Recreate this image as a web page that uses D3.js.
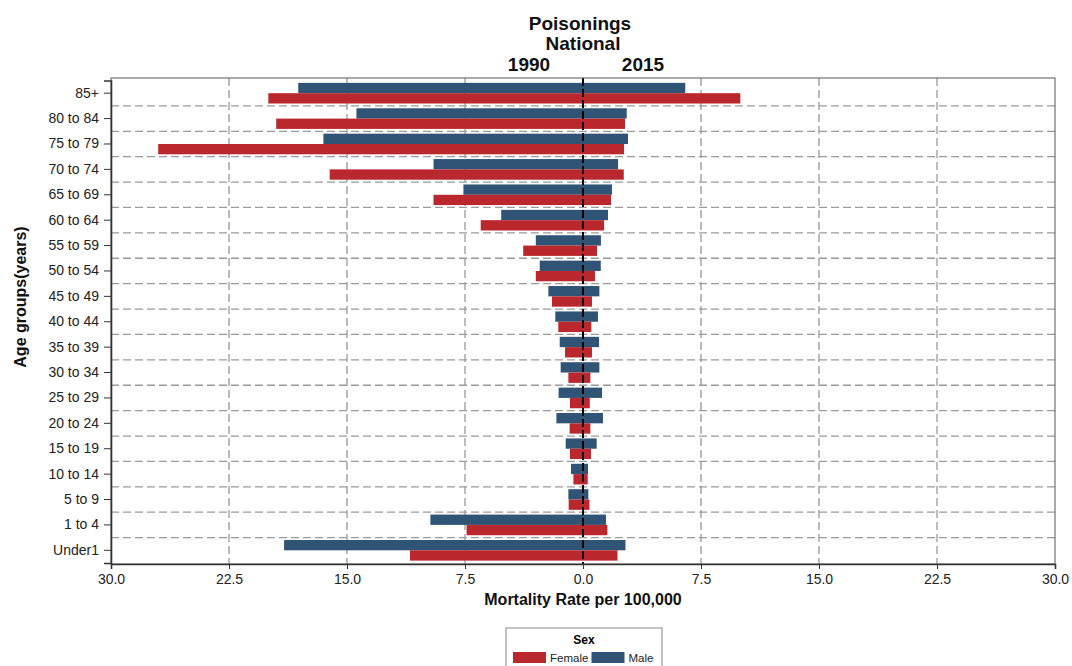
<!DOCTYPE html>
<html>
<head>
<meta charset="utf-8">
<script src="https://cdn.jsdelivr.net/npm/d3@7"></script>
<style>
  body { margin: 0; background: #fff; }
  svg { font-family: "Liberation Sans", Arial, sans-serif; display: block; }
</style>
</head>
<body>
<div id="chart"></div>
<script>
// age groups, top to bottom
const ages = ['85+', '80 to 84', '75 to 79', '70 to 74', '65 to 69', '60 to 64', '55 to 59',
    '50 to 54', '45 to 49', '40 to 44', '35 to 39', '30 to 34', '25 to 29', '20 to 24',
    '15 to 19', '10 to 14', '5 to 9', '1 to 4', 'Under1'];

// mortality rate per 100,000
const male1990 = [18.1, 14.4, 16.5, 9.5, 7.6, 5.2, 3.0, 2.75, 2.2, 1.76, 1.48, 1.42, 1.55, 1.69, 1.1, 0.76, 0.93, 9.7, 19.0];
const female1990 = [20.0, 19.5, 27.0, 16.1, 9.5, 6.5, 3.8, 3.0, 1.97, 1.57, 1.14, 0.93, 0.83, 0.85, 0.83, 0.61, 0.91, 7.4, 11.0];
const male2015 = [6.5, 2.78, 2.86, 2.23, 1.84, 1.59, 1.14, 1.13, 1.04, 0.95, 1.02, 1.04, 1.21, 1.27, 0.87, 0.32, 0.34, 1.46, 2.7];
const female2015 = [10.0, 2.67, 2.61, 2.59, 1.78, 1.34, 0.89, 0.76, 0.57, 0.53, 0.57, 0.47, 0.43, 0.47, 0.51, 0.3, 0.41, 1.55, 2.19];

const xTicks = [-30, -22.5, -15, -7.5, 0, 7.5, 15, 22.5, 30];
const sexes = ['Male', 'Female'];
const legendSexes = ['Female', 'Male'];
const colors = { Female: '#ba272d', Male: '#305475' };

const width = 1072, height = 666;
const plotLeft = 111, plotRight = 1055, plotTop = 78, plotBottom = 564;

const svg = d3.select('#chart').append('svg')
    .attr('width', width)
    .attr('height', height);

const x = d3.scaleLinear().domain([-30, 30]).range([plotLeft, plotRight]);
const y = d3.scaleBand().domain(ages).range([80.5, 563]).padding(0);
const ySex = d3.scaleBand().domain(sexes).range([0, y.bandwidth()]).paddingOuter(0.23).paddingInner(0);

// rows: left side = 1990 (negative), right side = 2015
const rows = [];
ages.forEach((a, i) => {
    rows.push({ age: a, sex: 'Male', v: -male1990[i] });
    rows.push({ age: a, sex: 'Female', v: -female1990[i] });
    rows.push({ age: a, sex: 'Male', v: male2015[i] });
    rows.push({ age: a, sex: 'Female', v: female2015[i] });
});

// vertical grid
svg.append('g')
    .selectAll('line')
    .data(xTicks.filter(t => t !== 0 && Math.abs(t) !== 30))
    .enter().append('line')
    .attr('x1', d => x(d)).attr('x2', d => x(d))
    .attr('y1', plotTop).attr('y2', plotBottom)
    .attr('stroke', '#9a9a9a')
    .attr('stroke-width', 1.3)
    .attr('stroke-dasharray', '8,4');

// horizontal separators between age groups
svg.append('g')
    .selectAll('line')
    .data(ages.slice(1))
    .enter().append('line')
    .attr('x1', plotLeft).attr('x2', plotRight)
    .attr('y1', d => y(d)).attr('y2', d => y(d))
    .attr('stroke', '#9a9a9a')
    .attr('stroke-width', 1.3)
    .attr('stroke-dasharray', '8,4');

// bars
svg.append('g')
    .selectAll('rect')
    .data(rows)
    .enter().append('rect')
    .attr('x', d => x(Math.min(0, d.v)))
    .attr('width', d => Math.abs(x(d.v) - x(0)))
    .attr('y', d => y(d.age) + ySex(d.sex))
    .attr('height', ySex.bandwidth())
    .attr('fill', d => colors[d.sex]);

// zero line
svg.append('line')
    .attr('x1', x(0)).attr('x2', x(0))
    .attr('y1', plotTop).attr('y2', plotBottom)
    .attr('stroke', '#000')
    .attr('stroke-width', 2)
    .attr('stroke-dasharray', '8,3');

// frame
svg.append('rect')
    .attr('x', plotLeft).attr('y', plotTop)
    .attr('width', plotRight - plotLeft).attr('height', plotBottom - plotTop)
    .attr('fill', 'none')
    .attr('stroke', '#555')
    .attr('stroke-width', 1);

// x axis
const xAxis = svg.append('g')
    .attr('transform', `translate(0,${plotBottom})`)
    .call(d3.axisBottom(x).tickValues(xTicks).tickSize(5).tickFormat(d => d3.format('.1f')(Math.abs(d))));
xAxis.select('.domain').attr('stroke', '#333').attr('stroke-width', 1.6);
xAxis.selectAll('.tick line').attr('stroke', '#333');
xAxis.selectAll('.tick text')
    .attr('font-size', 14)
    .attr('fill', '#222')
    .attr('dy', '0.75em')
    .attr('y', 9);

// y axis
const yAxis = svg.append('g')
    .attr('transform', `translate(${plotLeft},0)`)
    .call(d3.axisLeft(y).tickSize(7).tickPadding(5));
yAxis.select('.domain').attr('stroke', '#333').attr('stroke-width', 1.6);
yAxis.selectAll('.tick line').attr('stroke', '#333');
yAxis.selectAll('.tick text')
    .attr('font-size', 14)
    .attr('fill', '#222');

// axis titles
svg.append('text')
    .attr('x', x(0)).attr('y', 605)
    .attr('text-anchor', 'middle')
    .attr('font-size', 16)
    .attr('font-weight', 'bold')
    .attr('fill', '#111')
    .text('Mortality Rate per 100,000');

svg.append('text')
    .attr('transform', 'translate(26,297) rotate(-90)')
    .attr('text-anchor', 'middle')
    .attr('font-size', 16)
    .attr('font-weight', 'bold')
    .attr('fill', '#111')
    .text('Age groups(years)');

// titles
const title = svg.append('g').attr('font-weight', 'bold').attr('fill', '#111').attr('text-anchor', 'middle');
title.append('text').attr('x', 580).attr('y', 30).attr('font-size', 19).text('Poisonings');
title.append('text').attr('x', 583).attr('y', 50).attr('font-size', 19).text('National');
title.append('text').attr('x', 529).attr('y', 71).attr('font-size', 19).text('1990');
title.append('text').attr('x', 643).attr('y', 71).attr('font-size', 19).text('2015');

// legend
const legend = svg.append('g');
legend.append('rect')
    .attr('x', 506).attr('y', 628)
    .attr('width', 156).attr('height', 50)
    .attr('fill', '#fff')
    .attr('stroke', '#888');
legend.append('text')
    .attr('x', 584).attr('y', 644)
    .attr('text-anchor', 'middle')
    .attr('font-size', 12)
    .attr('font-weight', 'bold')
    .text('Sex');
const item = legend.selectAll('g.item')
    .data(legendSexes)
    .enter().append('g')
    .attr('class', 'item')
    .attr('transform', (d, i) => `translate(${513 + i * 78.5},652)`);
item.append('rect')
    .attr('width', 33).attr('height', 11)
    .attr('fill', d => colors[d]);
item.append('text')
    .attr('x', 37).attr('y', 10)
    .attr('font-size', 11.5)
    .attr('fill', '#222')
    .text(d => d);
</script>
</body>
</html>
